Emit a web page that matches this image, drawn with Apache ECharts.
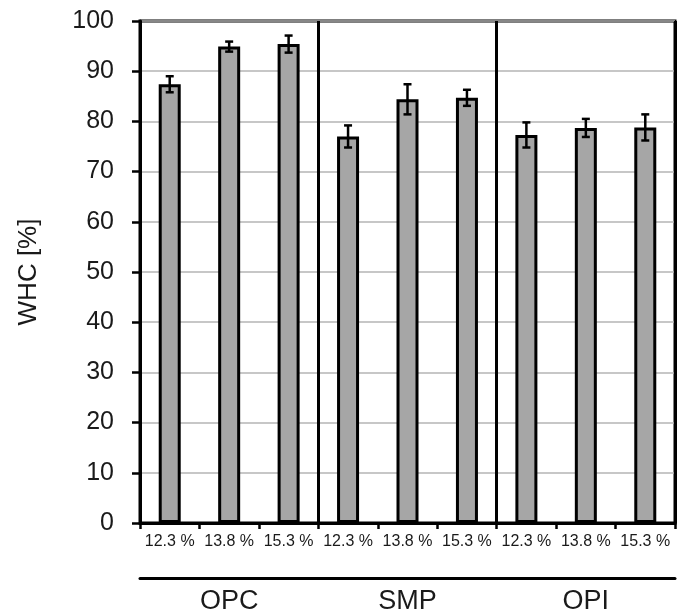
<!DOCTYPE html>
<html>
<head>
<meta charset="utf-8">
<script src="https://cdn.jsdelivr.net/npm/echarts@6/dist/echarts.min.js"></script>
<style>
    html, body { margin: 0; padding: 0; background: #fff; }
    #chart { width: 683px; height: 616px; }
</style>
</head>
<body>
<div id="chart"></div>
<script>
    // moisture content labels, three per sample group
    var categories = ['12.3 %', '13.8 %', '15.3 %', '12.3 %', '13.8 %', '15.3 %', '12.3 %', '13.8 %', '15.3 %'];
    var groups = ['OPC', 'SMP', 'OPI'];
    // WHC means and standard deviations
    var means = [87.4, 94.9, 95.4, 77.0, 84.4, 84.7, 77.3, 78.7, 78.8];
    var errors = [1.6, 1.0, 1.7, 2.2, 3.0, 1.6, 2.5, 1.8, 2.6];

    var font = 'Liberation Sans, Arial, sans-serif';
    var txt = '#1a1a1a';
    var myChart = echarts.init(document.getElementById('chart'));

    var errData = means.map(function (m, i) { return [i, m - errors[i], m + errors[i]]; });

    myChart.setOption({
        backgroundColor: '#fff',
        animation: false,
        grid: {
            left: 140, right: 8, top: 21, bottom: 93,
            show: true, borderColor: '#000', borderWidth: 3
        },
        xAxis: [{
            type: 'category',
            data: categories,
            axisLine: { lineStyle: { color: '#000', width: 3 } },
            axisTick: { show: true, interval: 0, length: 6, lineStyle: { color: '#000', width: 2.5 } },
            axisLabel: { interval: 0, fontSize: 16, color: txt, fontFamily: font, margin: 11 }
        }, {
            // hidden value axis just to draw the group separators
            type: 'value', min: 0, max: 9, interval: 3,
            position: 'bottom',
            axisLine: { show: false }, axisTick: { show: false }, axisLabel: { show: false },
            splitLine: { show: true, lineStyle: { color: '#000', width: 3 } }
        }, {
            type: 'category',
            data: groups,
            position: 'bottom',
            offset: 55,
            axisLine: { show: true, lineStyle: { color: '#000', width: 3 } },
            axisTick: { show: false },
            axisLabel: { fontSize: 27, color: txt, fontFamily: font, margin: 10 }
        }],
        yAxis: {
            type: 'value', min: 0, max: 100, interval: 10,
            name: 'WHC [%]',
            nameLocation: 'middle',
            nameGap: 98,
            nameTextStyle: { fontSize: 26, color: txt, fontFamily: font },
            axisLine: { show: true, lineStyle: { color: '#000', width: 3 } },
            axisTick: { show: true, length: 8, lineStyle: { color: '#000', width: 2.5 } },
            axisLabel: { fontSize: 25, color: txt, fontFamily: font, margin: 26 },
            splitLine: { show: true, lineStyle: { color: '#b4b4b4', width: 1.5 } }
        },
        series: [{
            type: 'bar',
            data: means,
            barWidth: 22,
            itemStyle: { color: '#a6a6a6', borderColor: '#000', borderWidth: 3 },
            z: 3
        }, {
            type: 'custom',
            data: errData,
            z: 4,
            renderItem: function (params, api) {
                var lo = api.coord([api.value(0), api.value(1)]);
                var hi = api.coord([api.value(0), api.value(2)]);
                var w = 4;
                var style = { stroke: '#000', lineWidth: 2.5 };
                return {
                    type: 'group',
                    children: [
                        { type: 'line', shape: { x1: hi[0], y1: hi[1], x2: lo[0], y2: lo[1] }, style: style },
                        { type: 'line', shape: { x1: hi[0] - w, y1: hi[1], x2: hi[0] + w, y2: hi[1] }, style: style },
                        { type: 'line', shape: { x1: lo[0] - w, y1: lo[1], x2: lo[0] + w, y2: lo[1] }, style: style }
                    ]
                };
            }
        }]
    });
</script>
</body>
</html>
